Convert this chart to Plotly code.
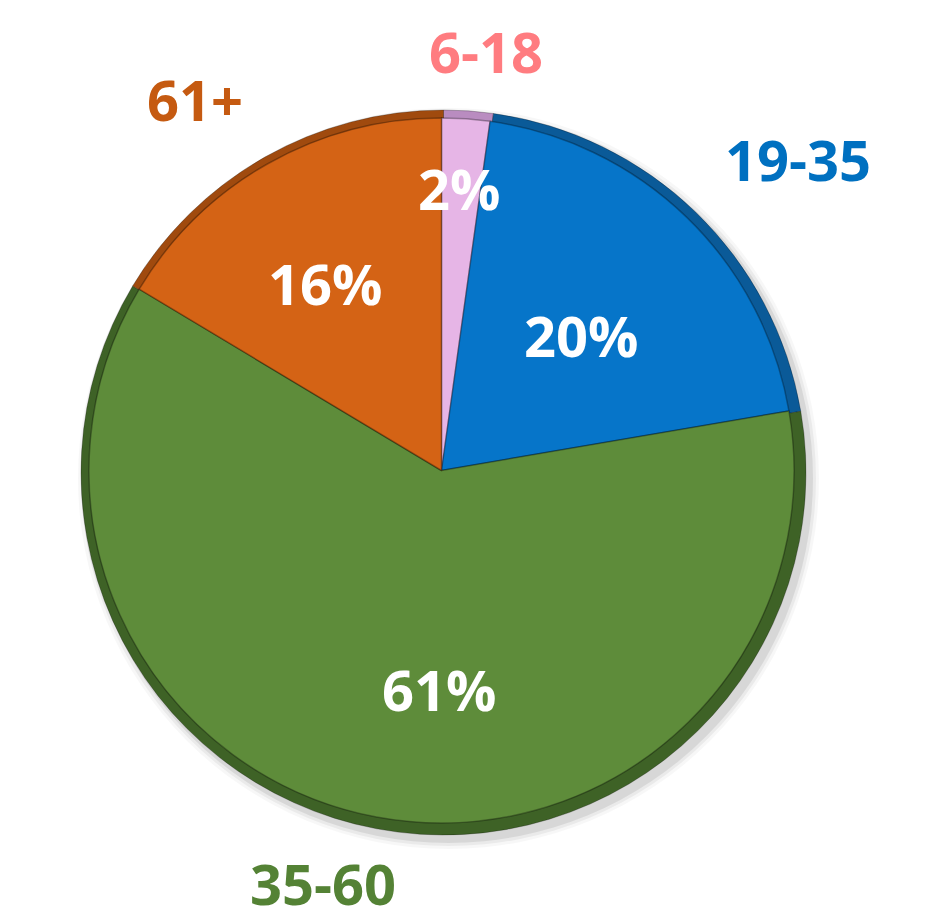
import plotly.graph_objects as go

# ---- data ----
AGE_GROUPS = ["6-18", "19-35", "35-60", "61+"]
SHARE = [2.2, 20.1, 61.3, 16.4]          # percent share of each age group

# ---- styles ----
FILL = ["#E6B5E6", "#0675C9", "#5E8C3A", "#D46315"]
RIM = ["#B98CC0", "#0A5A98", "#3E6226", "#A04A0E"]
LABEL_COL = ["#FF7C80", "#0070C0", "#548235", "#C55A11"]
# label anchor points in pixels (layout only)
OUTER_POS = [(486, 51), (798, 159), (323, 883), (195, 99)]
INNER_POS = [(459, 188), (581, 335), (439, 689), (325, 283)]

W, H = 943, 920
CX, CY, R = 443.5, 472.5, 362.5
FONT = "Open Sans"
FS = 56


def dom(cx, cy, r):
    return dict(x=[(cx - r) / W, (cx + r) / W],
                y=[1 - (cy + r) / H, 1 - (cy - r) / H])


fig = go.Figure()

# soft drop shadow
for dr, a in [(8, 0.03), (5, 0.05), (2, 0.08)]:
    fig.add_trace(go.Pie(values=[1], labels=["shadow"], domain=dom(CX + 5, CY + 6, R + dr),
                         marker=dict(colors=[f"rgba(0,0,0,{a})"], line=dict(width=0)),
                         textinfo="none", hoverinfo="skip", showlegend=False, sort=False))

# rim (bevel) layer
fig.add_trace(go.Pie(values=SHARE, labels=AGE_GROUPS, domain=dom(CX, CY, R),
                     marker=dict(colors=RIM, line=dict(color="rgba(0,0,0,0.25)", width=1)),
                     direction="clockwise", rotation=0, sort=False,
                     textinfo="none", hoverinfo="skip", showlegend=False))

# main face
fig.add_trace(go.Pie(values=SHARE, labels=AGE_GROUPS, domain=dom(CX - 2, CY - 2, R - 10),
                     marker=dict(colors=FILL, line=dict(color="rgba(0,0,0,0.30)", width=1.5)),
                     direction="clockwise", rotation=0, sort=False,
                     textinfo="none", hovertemplate="%{label}: %{percent}<extra></extra>",
                     showlegend=False))

total = sum(SHARE)
annotations = []
for i, (lab, v) in enumerate(zip(AGE_GROUPS, SHARE)):
    ox, oy = OUTER_POS[i]
    ix, iy = INNER_POS[i]
    annotations.append(dict(x=ox / W, y=1 - oy / H, xref="paper", yref="paper",
                            text=lab, showarrow=False, xanchor="center", yanchor="middle",
                            font=dict(family=FONT, size=FS, color=LABEL_COL[i], weight="bold")))
    annotations.append(dict(x=ix / W, y=1 - iy / H, xref="paper", yref="paper",
                            text=f"{round(v / total * 100)}%", showarrow=False,
                            xanchor="center", yanchor="middle",
                            font=dict(family=FONT, size=FS, color="white", weight="bold")))

fig.update_layout(width=W, height=H, margin=dict(l=0, r=0, t=0, b=0),
                  paper_bgcolor="white", plot_bgcolor="white",
                  annotations=annotations, showlegend=False)

fig.write_html("out.html", config={"displayModeBar": False},
               post_script="document.body.style.margin='0';")
